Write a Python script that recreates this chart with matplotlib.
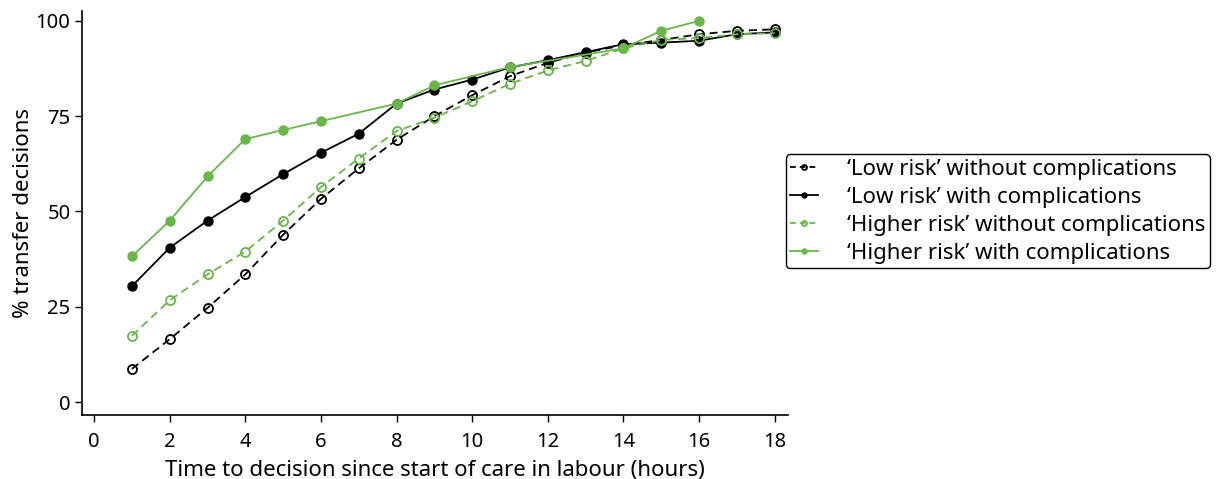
import numpy as np
import matplotlib
matplotlib.use("Agg")
import matplotlib.pyplot as plt

plt.rcParams['font.family'] = ['Noto Sans', 'DejaVu Sans']

hours = [1, 2, 3, 4, 5, 6, 7, 8, 9, 10, 11, 12, 13, 14, 15, 16, 17, 18]

low_without = [8.7, 16.5, 24.7, 33.5, 43.9, 53.3, 61.3, 68.8, 75.0, 80.5,
               85.5, 89.0, 91.7, 93.6, 95.0, 96.5, 97.4, 97.8]
low_with = [30.4, 40.5, 47.6, 53.8, 59.8, 65.4, 70.4, 78.3, 82.0, 84.6,
            87.8, 89.7, 91.8, 93.9, 94.3, 94.8, 96.5, 97.0]
higher_without = [17.4, 26.7, 33.5, 39.5, 47.6, 56.4, 63.9, 71.1, 74.6, 78.9,
                  83.5, 87.0, 89.5, 92.8, 95.0, 95.5, 96.5, 96.8]

higher_with_hours = [1, 2, 3, 4, 5, 6, 8, 9, 11, 14, 15, 16]
higher_with = [38.2, 47.6, 59.2, 69.0, 71.4, 73.7, 78.3, 83.1, 87.9, 92.8, 97.4, 100.0]

labels = ["\u2018Low risk\u2019 without complications",
          "\u2018Low risk\u2019 with complications",
          "\u2018Higher risk\u2019 without complications",
          "\u2018Higher risk\u2019 with complications"]

green = '#6ab64a'
dash = (4.5, 2.8)

fig = plt.figure(figsize=(12.24, 4.79), dpi=100)
ax = fig.add_axes([0.0667, 0.1336, 0.5769, 0.8434])

ax.plot(hours, low_without, color='black', lw=1.3, dashes=dash,
        marker='o', ms=6.5, mfc='none', mec='black', mew=1.3, label=labels[0])
ax.plot(hours, low_with, color='black', lw=1.3,
        marker='o', ms=6.5, mfc='black', mec='black', label=labels[1])
ax.plot(hours, higher_without, color=green, lw=1.3, dashes=dash,
        marker='o', ms=6.5, mfc='none', mec=green, mew=1.3, label=labels[2])
ax.plot(higher_with_hours, higher_with, color=green, lw=1.3,
        marker='o', ms=6.5, mfc=green, mec=green, label=labels[3])

ax.set_xlim(-0.33, 18.35)
ax.set_ylim(-3.4, 102.6)
ax.set_xticks(range(0, 19, 2))
ax.set_yticks([0, 25, 50, 75, 100])
ax.tick_params(labelsize=14.5, length=5, width=1, color='black')
ax.tick_params(axis='x', pad=7)
ax.tick_params(axis='y', pad=3)
for side in ['top', 'right']:
    ax.spines[side].set_visible(False)
for side in ['left', 'bottom']:
    ax.spines[side].set_linewidth(1.2)

ax.set_xlabel("Time to decision since start of care in labour (hours)", fontsize=16, labelpad=6)
ax.set_ylabel("% transfer decisions", fontsize=16, labelpad=1)

leg = fig.legend(loc='upper left', bbox_to_anchor=(0.642, 0.678), fontsize=16,
                 frameon=True, fancybox=True, edgecolor='black', framealpha=1,
                 handlelength=1.25, handletextpad=1.3, labelspacing=0.32,
                 borderpad=0.2, borderaxespad=0, markerscale=0.55)
leg.get_frame().set_linewidth(1.0)
# short dashes either side of the legend marker
for i in (0, 2):
    leg.get_lines()[i].set_dashes((3.2, 2.2))

fig.savefig("out.png", dpi=100)
